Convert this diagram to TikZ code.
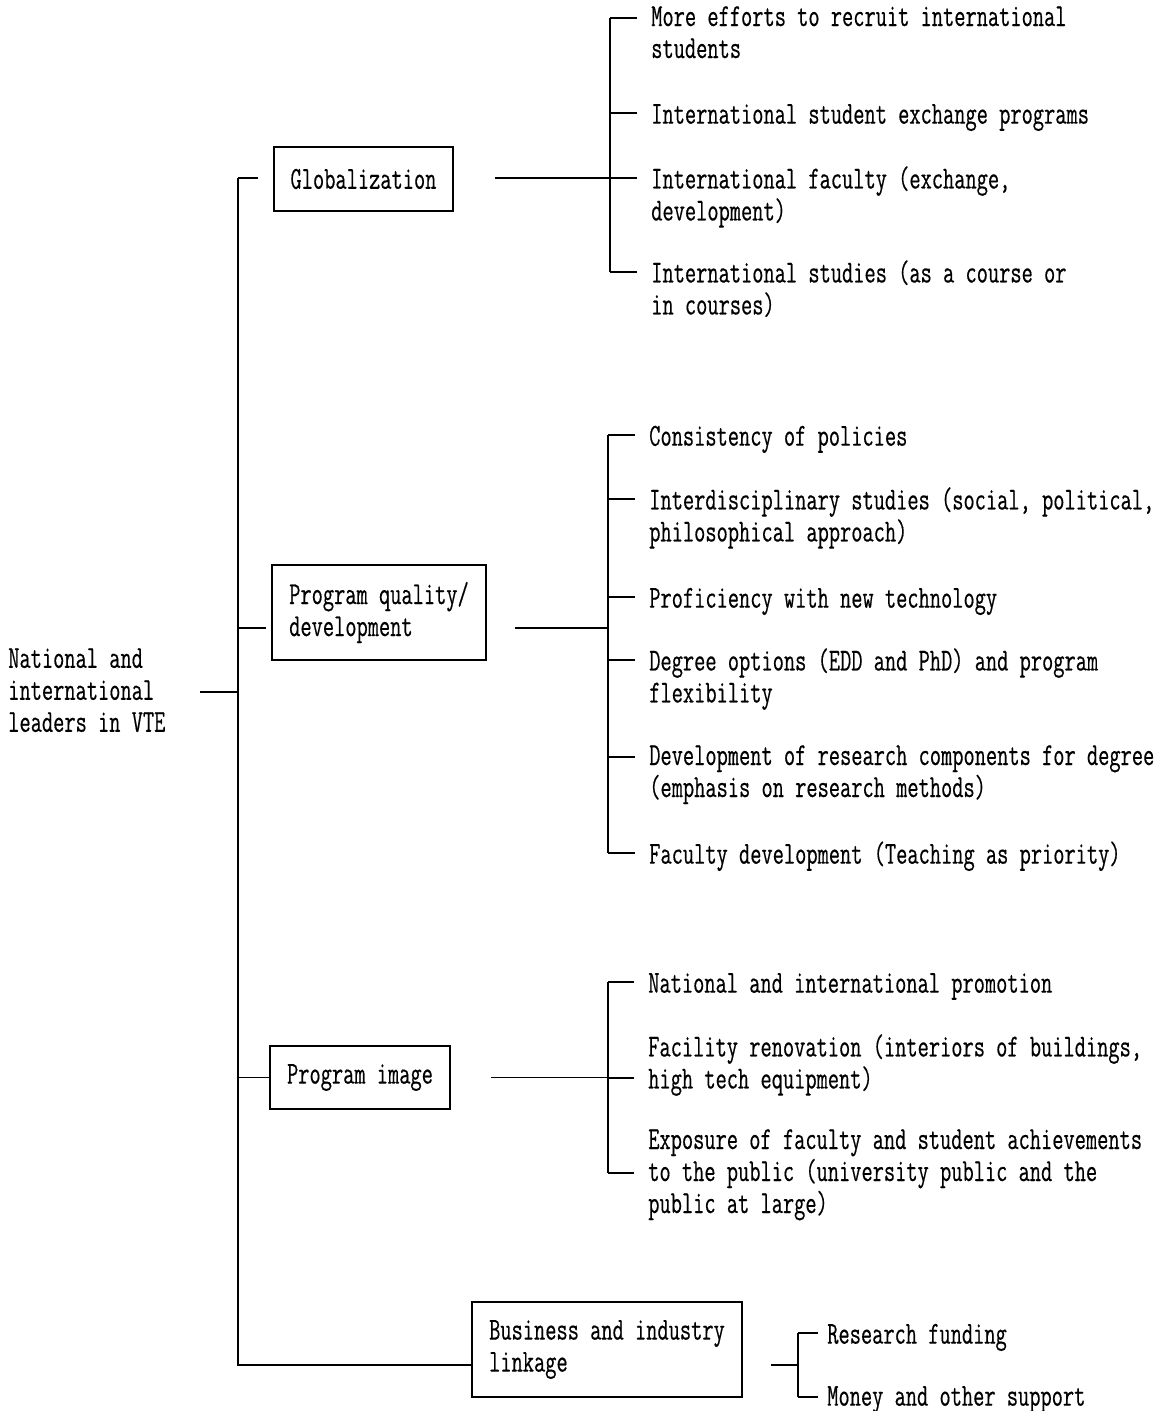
\documentclass[tikz,border=0pt]{standalone}
\usepackage{fontspec}
\setmonofont[FakeStretch=0.681,FakeBold=0.4]{Latin Modern Mono}
\begin{document}
\begin{tikzpicture}[x=0.75pt,y=-0.75pt,
  txt/.style={font=\ttfamily\fontsize{24}{24}\selectfont, inner sep=0pt, anchor=north west, align=left, execute at begin node=\strut},
  box/.style={draw, line width=1.3pt, font=\ttfamily\fontsize{24}{24}\selectfont, align=left, inner sep=0pt},
  ln/.style={line width=1.3pt}]
\useasboundingbox[fill=white] (0,0) rectangle (1165,1411);

% root (node tops sit 12px above the tick of their first line)
\node[txt] (root) at (8,648) {National and\\international\\leaders in VTE};

% second-level boxes
\node[box, minimum width={179*0.75pt}, minimum height={64*0.75pt}] (glob) at (363.5,179) {Globalization};
\node[box, minimum width={214*0.75pt}, minimum height={95*0.75pt}] (pq) at (379,612.5) {Program quality/\\development};
\node[box, minimum width={180*0.75pt}, minimum height={63*0.75pt}] (pimg) at (360,1077.5) {Program image};
\node[box, minimum width={270*0.75pt}, minimum height={95*0.75pt}] (bus) at (607,1349.5) {Business and industry\\linkage};

% trunk
\coordinate (trunkTop) at (238,178);
\coordinate (trunkBot) at (238,1365);
\coordinate (rootEnd) at (200,692);
\coordinate (globTick) at (258,178);
\coordinate (pqTick) at (266,628);
\draw[ln] (trunkTop) -- (trunkBot) -- (trunkBot -| bus.west);
\draw[ln] (trunkTop) -- (globTick);
\draw[ln] (rootEnd) -- (rootEnd -| trunkTop);
\draw[ln] (pqTick) -- (pqTick -| trunkTop);
\draw[ln] (pimg.west) -- (pimg.west -| trunkTop);

% globalization items
\node[txt] (g1) at (651,6) {More efforts to recruit international\\students};
\node[txt] (g2) at (651,101) {International student exchange programs};
\node[txt] (g3) at (651,166) {International faculty (exchange,\\development)};
\node[txt] (g4) at (651,260) {International studies (as a course or\\in courses)};
\coordinate (gB) at (610,178);
\foreach \i in {g1,g2,g3,g4}
  \draw[ln] (\i.north west) ++(-14,12) coordinate (t\i) -- (t\i -| gB);
\draw[ln] (tg1 -| gB) -- (tg4 -| gB);
\draw[ln] (glob.east) ++(41,-1) coordinate (gF) -- (gF -| gB);

% program quality items
\node[txt] (p1) at (649,423) {Consistency of policies};
\node[txt] (p2) at (649,487) {Interdisciplinary studies (social, political,\\philosophical approach)};
\node[txt] (p3) at (649,585) {Proficiency with new technology};
\node[txt] (p4) at (649,648) {Degree options (EDD and PhD) and program\\flexibility};
\node[txt] (p5) at (649,745) {Development of research components for degree\\(emphasis on research methods)};
\node[txt] (p6) at (649,841) {Faculty development (Teaching as priority)};
\coordinate (pB) at (608,628);
\foreach \i in {p1,p2,p3,p4,p5,p6}
  \draw[ln] (\i.north west) ++(-14,12) coordinate (t\i) -- (t\i -| pB);
\draw[ln] (tp1 -| pB) -- (tp6 -| pB);
\draw[ln] (pq.east) ++(28,15.5) coordinate (pF) -- (pF -| pB);

% program image items
\node[txt] (m1) at (648,970) {National and international promotion};
\node[txt] (m2) at (648,1034) {Facility renovation (interiors of buildings,\\high tech equipment)};
\node[txt] (m3) at (648,1129) {Exposure of faculty and student achievements\\to the public (university public and the\\public at large)};
\coordinate (mB) at (608,1078);
\draw[ln] (m1.north west) ++(-14,12) coordinate (tm1) -- (tm1 -| mB);
\draw[ln] (m2.north west) ++(-14,44) coordinate (tm2) -- (tm2 -| mB);
\draw[ln] (m3.north west) ++(-14,44) coordinate (tm3) -- (tm3 -| mB);
\draw[ln] (tm1 -| mB) -- (tm3 -| mB);
\draw[ln] (pimg.east) ++(40,0) coordinate (mF) -- (mF -| mB);

% business items
\node[txt] (b1) at (827,1321) {Research funding};
\node[txt] (b2) at (827,1383) {Money and other support};
\coordinate (bB) at (798,1365);
\draw[ln] (b1.north west) ++(-9,12) coordinate (tb1) -- (tb1 -| bB);
\draw[ln] (b2.north west) ++(-9,14) coordinate (tb2) -- (tb2 -| bB);
\draw[ln] (tb1 -| bB) -- (tb2 -| bB);
\draw[ln] (bus.east) ++(28,15.5) coordinate (bF) -- (bF -| bB);
\end{tikzpicture}
\end{document}
